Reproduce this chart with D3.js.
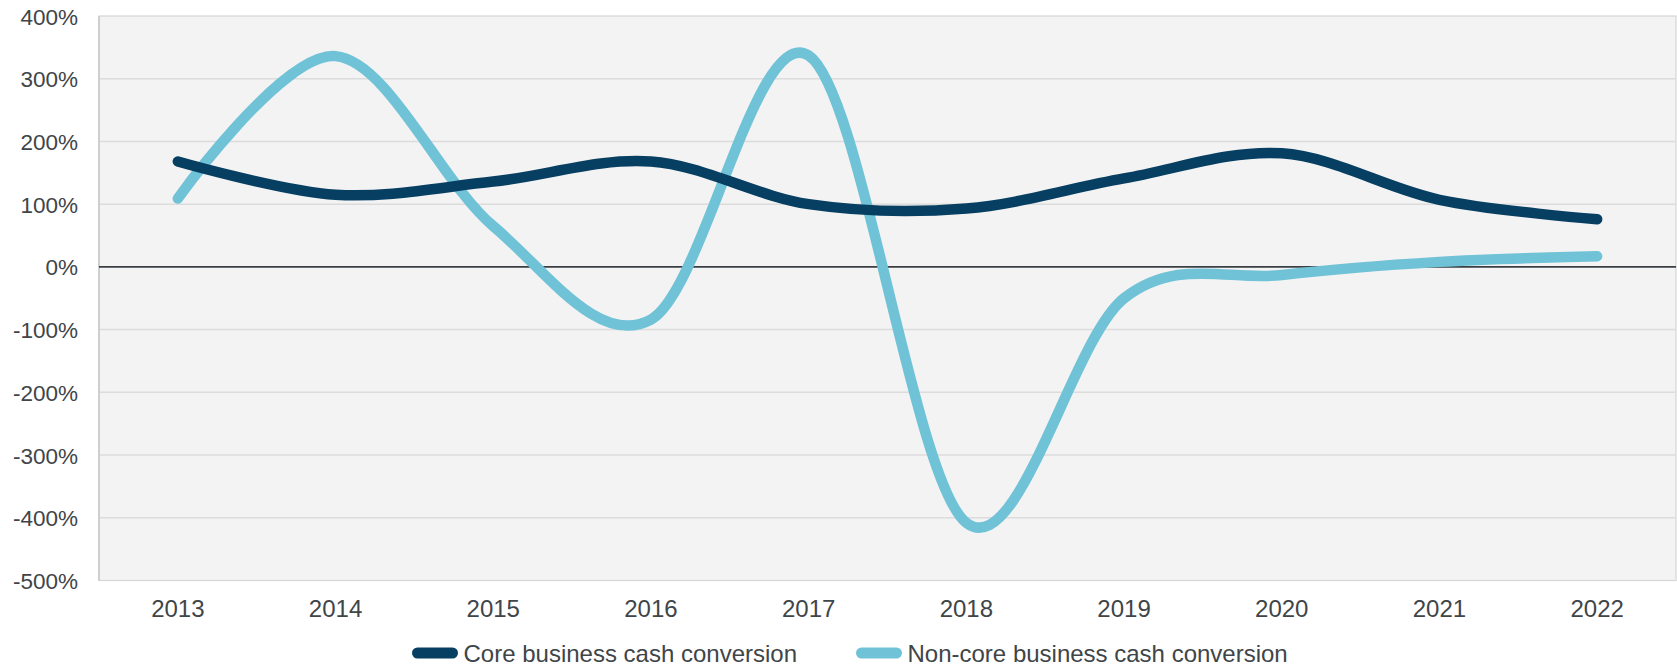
<!DOCTYPE html>
<html>
<head>
<meta charset="utf-8">
<script src="https://cdn.jsdelivr.net/npm/d3@7"></script>
<style>
  html, body { margin: 0; padding: 0; background: #ffffff; }
  svg { display: block; }
  text { font-family: "Liberation Sans", Arial, sans-serif; fill: #404548; }
</style>
</head>
<body>
<script>
// Fiscal years shown on the category axis
const years = ["2013", "2014", "2015", "2016", "2017", "2018", "2019", "2020", "2021", "2022"];

// Cash conversion, in percent
const coreConversion    = [168, 115, 136, 168, 100, 93, 141, 181, 107, 76];
const nonCoreConversion = [109, 336, 65, -84, 337, -408, -50, -13, 8, 17];

// Value axis ticks, in percent
const yTicks = [400, 300, 200, 100, 0, -100, -200, -300, -400, -500];

const seriesNames  = ["Core business cash conversion", "Non-core business cash conversion"];
const seriesColors = ["#063f62", "#70c2d7"];

const W = 1677, H = 666;
const plot = { left: 99, right: 1676, top: 16, bottom: 580.5 };

const svg = d3.select("body").append("svg")
  .attr("width", W).attr("height", H);

const x = d3.scaleBand()
  .domain(years)
  .range([plot.left, plot.right])
  .paddingInner(0).paddingOuter(0);

const y = d3.scaleLinear()
  .domain([-500, 400])
  .range([plot.bottom, plot.top]);

// Plot area background
svg.append("rect")
  .attr("x", plot.left).attr("y", plot.top)
  .attr("width", plot.right - plot.left)
  .attr("height", plot.bottom - plot.top)
  .attr("fill", "#f3f3f3")
  .attr("stroke", "#d6d6d6")
  .attr("stroke-width", 1.2);

// Horizontal gridlines
svg.append("g")
  .selectAll("line")
  .data(yTicks.filter(d => d !== 0 && d !== -500 && d !== 400))
  .join("line")
  .attr("x1", plot.left).attr("x2", plot.right)
  .attr("y1", d => y(d)).attr("y2", d => y(d))
  .attr("stroke", "#dcdcdc")
  .attr("stroke-width", 1.5);

// Left edge of the plot area
svg.append("line")
  .attr("x1", plot.left).attr("x2", plot.left)
  .attr("y1", plot.top).attr("y2", plot.bottom)
  .attr("stroke", "#c4c4c4").attr("stroke-width", 1.3);

// Zero baseline
svg.append("line")
  .attr("x1", plot.left).attr("x2", plot.right)
  .attr("y1", y(0)).attr("y2", y(0))
  .attr("stroke", "#3a3f44")
  .attr("stroke-width", 1.6);

// Value axis labels
const yAxis = d3.axisLeft(y)
  .tickValues(yTicks)
  .tickFormat(d => d + "%")
  .tickSize(0)
  .tickPadding(0);

const gy = svg.append("g")
  .attr("transform", `translate(${plot.left - 21},0)`)
  .call(yAxis);
gy.select(".domain").remove();
gy.selectAll("text")
  .style("font-size", "22.5px")
  .attr("fill", "#404548")
  .attr("dy", "0.36em");

// Category axis labels
const xAxis = d3.axisBottom(x).tickSize(0).tickPadding(0);
const gx = svg.append("g")
  .attr("transform", `translate(0,${plot.bottom})`)
  .call(xAxis);
gx.select(".domain").remove();
gx.selectAll("text")
  .style("font-size", "24px")
  .attr("fill", "#404548")
  .attr("y", 36.5)
  .attr("dy", 0);

// Smoothed series lines
const line = d3.line()
  .x((d, i) => x(years[i]) + x.bandwidth() / 2)
  .y(d => y(d))
  .curve(d3.curveCardinal.tension(0));

const series = [coreConversion, nonCoreConversion];
// Non-core is drawn first so the core line lies on top where they cross
[1, 0].forEach(k => {
  svg.append("path")
    .datum(series[k])
    .attr("d", line)
    .attr("fill", "none")
    .attr("stroke", seriesColors[k])
    .attr("stroke-width", 10.5)
    .attr("stroke-linecap", "round")
    .attr("stroke-linejoin", "round");
});

// Legend
const legendItems = [
  { name: seriesNames[0], color: seriesColors[0], x: 417.5 },
  { name: seriesNames[1], color: seriesColors[1], x: 861.5 }
];
const legend = svg.append("g");
legendItems.forEach(it => {
  legend.append("line")
    .attr("x1", it.x).attr("x2", it.x + 35)
    .attr("y1", 653).attr("y2", 653)
    .attr("stroke", it.color)
    .attr("stroke-width", 11)
    .attr("stroke-linecap", "round");
  legend.append("text")
    .attr("x", it.x + 46)
    .attr("y", 661.5)
    .style("font-size", "24px")
    .text(it.name);
});
</script>
</body>
</html>
